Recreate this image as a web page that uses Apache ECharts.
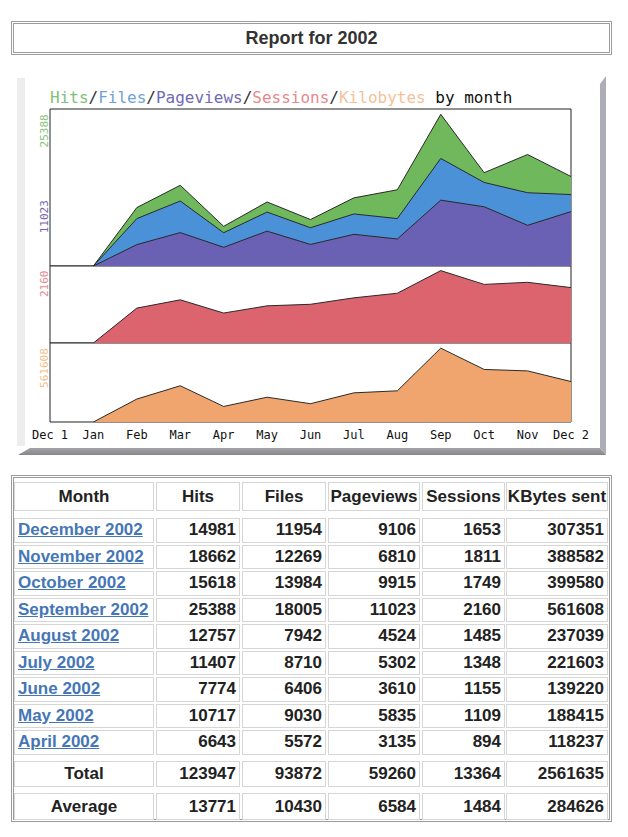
<!DOCTYPE html>
<html><head><meta charset="utf-8">
<script src="https://cdn.jsdelivr.net/npm/echarts@6/dist/echarts.min.js"></script>
<style>
html,body{margin:0;padding:0;background:#fff;width:628px;height:837px;overflow:hidden;}
#titlebox{position:absolute;left:11px;top:21px;width:595px;height:28px;border:3px double #9c9c9c;font:bold 18px "Liberation Sans",Arial,sans-serif;color:#333;text-align:center;line-height:28px;}
#chart{position:absolute;left:0;top:0;width:628px;height:470px;}
#table{position:absolute;left:11px;top:475px;width:595px;height:341px;border:3px double #9c9c9c;}
.cell{position:absolute;box-sizing:border-box;border:1px solid #d6d6d6;font:bold 17px "Liberation Sans",Arial,sans-serif;color:#222;white-space:nowrap;display:flex;align-items:center;padding:0 3px;}
.cell a{color:#4576b5;text-decoration:underline;}
</style></head>
<body>
<div id="titlebox">Report for 2002</div>
<div id="chart"></div>
<div id="table"></div>
<script>
// x axis tick labels
const xLabels = ['Dec 1','Jan','Feb','Mar','Apr','May','Jun','Jul','Aug','Sep','Oct','Nov','Dec 2'];
// month names, Jan..Dec
const monthNames = ['January','February','March','April','May','June','July','August','September','October','November','December'];
// monthly values Jan..Dec 2002 (Feb/Mar)
const hits      = [0, 9780, 13510, 6643, 10717, 7774, 11407, 12757, 25388, 15618, 18662, 14981];
const files     = [0, 7935, 10880, 5572, 9030, 6406, 8710, 7942, 18005, 13984, 12269, 11954];
const pageviews = [0, 3580, 5590, 3135, 5835, 3610, 5302, 4524, 11023, 9915, 6810, 9106];
const sessions  = [0, 1041, 1288, 894, 1109, 1155, 1348, 1485, 2160, 1749, 1811, 1653];
const kbytes    = [0, 174550, 275480, 118237, 188415, 139220, 221603, 237039, 561608, 399580, 388582, 307351];
// months listed in the table (indices into the arrays, newest first)
const tableMonths = [11, 10, 9, 8, 7, 6, 5, 4, 3];
const headers = ['Month','Hits','Files','Pageviews','Sessions','KBytes sent'];

const C = {hits:'#6fb95c', files:'#4b91d7', pv:'#6a60b4', ses:'#dc646e', kb:'#f0a56e'};
const mono = 'DejaVu Sans Mono';
const pad = a => [null].concat(a);
const mx = a => Math.max.apply(null, a);

const chart = echarts.init(document.getElementById('chart'), null, {renderer:'svg'});
const gridBase = {left:50, width:521, show:true, borderColor:'#222', borderWidth:1, backgroundColor:'#fff'};
const grids = [
  Object.assign({top:109, height:157}, gridBase),
  Object.assign({top:266, height:77}, gridBase),
  Object.assign({top:343, height:79}, gridBase)
];
const labelColors = {};
labelColors[mx(hits)] = '#86c47a';
labelColors[mx(pageviews)] = '#7468aa';
labelColors[mx(sessions)] = '#e08e92';
labelColors[mx(kbytes)] = '#efbf8e';
function yAx(i, max, vals){
  return {gridIndex:i, type:'value', min:0, max:max,
    axisLine:{show:false}, axisTick:{show:false}, splitLine:{show:false},
    axisLabel:{customValues:vals, rotate:90, align:'right', verticalAlign:'middle', margin:6,
      fontFamily:mono, fontSize:11, formatter:v=>String(v), color:v=>labelColors[v]||'#666'}};
}
function xAx(i, showLabel){
  return {gridIndex:i, type:'category', data:xLabels, boundaryGap:false,
    axisLine:{show:false}, axisTick:{show:false}, splitLine:{show:false},
    axisLabel:{show:showLabel, interval:0, fontFamily:mono, fontSize:12, color:'#111', margin:7}};
}
function area(name, data, color, gi){
  return {name:name, type:'line', xAxisIndex:gi, yAxisIndex:gi, data:pad(data), symbol:'none',
    lineStyle:{color:'#2a2a2a', width:1}, areaStyle:{color:color, opacity:1}, silent:true};
}
const rs = (c)=>({color:c, fontFamily:mono, fontSize:16});
chart.setOption({
  animation:false,
  title:{left:45, top:84, text:'{h|Hits}{s|/}{f|Files}{s|/}{p|Pageviews}{s|/}{e|Sessions}{s|/}{k|Kilobytes}{b| by month}',
    textStyle:{fontFamily:mono, fontSize:16, fontWeight:'normal',
      rich:{h:rs('#7fc07a'), f:rs('#6ea2d6'), p:rs('#6f6ab2'), e:rs('#e6888e'), k:rs('#f2c29a'), s:rs('#333'), b:rs('#111')}}},
  grid:grids,
  xAxis:[xAx(0,false), xAx(1,false), xAx(2,true)],
  yAxis:[yAx(0, mx(hits)/0.966, [mx(hits), mx(pageviews)]),
         yAx(1, mx(sessions)/0.94, [mx(sessions)]),
         yAx(2, mx(kbytes)/0.935, [mx(kbytes)])],
  series:[area('Hits',hits,C.hits,0), area('Files',files,C.files,0), area('Pageviews',pageviews,C.pv,0),
          area('Sessions',sessions,C.ses,1), area('Kilobytes',kbytes,C.kb,2)],
  graphic:[
    {type:'rect', shape:{x:17,y:78,width:8,height:368}, style:{fill:'#ededed'}, silent:true},
    {type:'polygon', shape:{points:[[600,84],[606,76],[606,455],[600,448]]}, style:{fill:'#adadb6'}, silent:true},
    {type:'polygon', shape:{points:[[30,448],[600,448],[606,455],[18,455]]},
      style:{fill:new echarts.graphic.LinearGradient(0,0,0,1,[{offset:0,color:'#a4a4a8'},{offset:1,color:'#86868a'}])}, silent:true}
  ]
});

// table
const tbl = document.getElementById('table');
const colL = [14,156,242,328,422,506], colR = [154,240,326,420,505,608];
const OX = 14, OY = 478;
function cell(ci, top, h, html, align, extra){
  const d = document.createElement('div');
  d.className = 'cell';
  d.style.left = (colL[ci]-OX)+'px';
  d.style.width = (colR[ci]-colL[ci])+'px';
  d.style.top = (top-OY)+'px';
  d.style.height = h+'px';
  d.style.justifyContent = align;
  if (extra) d.style.padding = extra;
  d.innerHTML = html;
  tbl.appendChild(d);
}
headers.forEach((h,ci)=>cell(ci, 482, 29, h, 'center', '0'));
const cols = [hits, files, pageviews, sessions, kbytes];
tableMonths.forEach((m,ri)=>{
  const top = 518 + ri*26.5;
  cell(0, top, 24.5, '<a>'+monthNames[m]+' 2002</a>', 'flex-start');
  cols.forEach((arr,ci)=>cell(ci+1, top, 24.5, String(arr[m]), 'flex-end'));
});
const totals = cols.map(a=>tableMonths.reduce((s,m)=>s+a[m],0));
const avgs = totals.map(t=>Math.floor(t/tableMonths.length));
cell(0, 761, 26, 'Total', 'center');
totals.forEach((t,ci)=>cell(ci+1, 761, 26, String(t), 'flex-end'));
cell(0, 793, 27, 'Average', 'center');
avgs.forEach((t,ci)=>cell(ci+1, 793, 27, String(t), 'flex-end'));
</script>
</body></html>
